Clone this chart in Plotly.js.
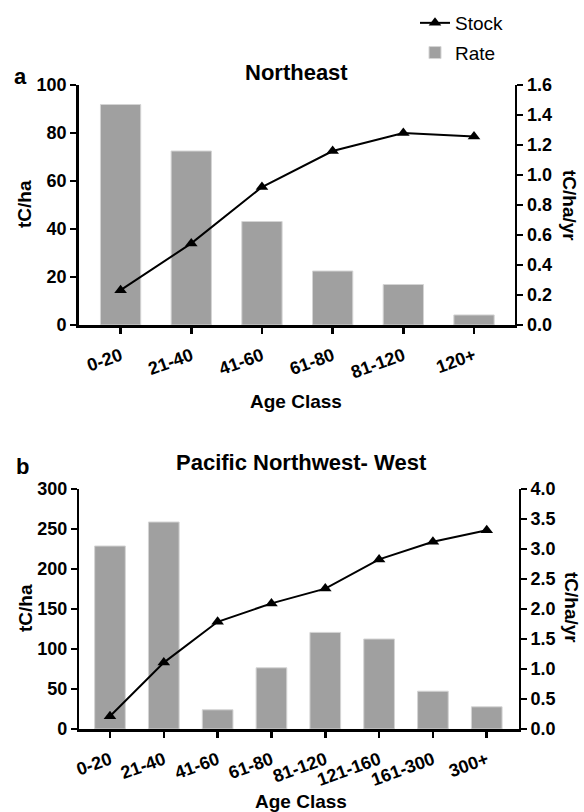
<!DOCTYPE html>
<html>
<head>
<meta charset="utf-8">
<script src="https://cdn.plot.ly/plotly-3.0.1.min.js"></script>
<style>html,body{margin:0;padding:0;background:#fff;}#chart{width:584px;height:812px;}</style>
</head>
<body>
<div id="chart"></div>
<script>
// Panel a: Northeast
const neAgeClasses = ["0-20", "21-40", "41-60", "61-80", "81-120", "120+"];
const neStock = [14.5, 34, 57.5, 72.5, 80, 78.5];        // tC/ha
const neRate = [1.47, 1.16, 0.69, 0.36, 0.27, 0.067];    // tC/ha/yr

// Panel b: Pacific Northwest- West
const pnwAgeClasses = ["0-20", "21-40", "41-60", "61-80", "81-120", "121-160", "161-300", "300+"];
const pnwStock = [16, 83, 134, 157, 175.5, 212, 234, 248.5];          // tC/ha
const pnwRate = [3.05, 3.45, 0.32, 1.02, 1.61, 1.50, 0.63, 0.37];    // tC/ha/yr

const FONT = "Liberation Sans, Arial, Helvetica, sans-serif";
const W = 584, H = 812;
const px = v => v / W;
const py = v => 1 - v / H;

const barStyle = {color: "#a0a0a0", line: {color: "#d4d4d4", width: 1}};
const lineStyle = {color: "#000", width: 2};
const markerStyle = {symbol: "triangle-up", size: 11, color: "#000"};

const traces = [
  {type: "bar", x: neAgeClasses, y: neRate, xaxis: "x", yaxis: "y", name: "Rate",
   marker: barStyle, width: 0.57, legendgroup: "r", legendrank: 2, showlegend: true},
  {type: "scatter", mode: "lines+markers", x: neAgeClasses, y: neStock, xaxis: "x", yaxis: "y2",
   name: "Stock", line: lineStyle, marker: markerStyle, legendgroup: "s", legendrank: 1, showlegend: true},
  {type: "bar", x: pnwAgeClasses, y: pnwRate, xaxis: "x2", yaxis: "y3", name: "Rate",
   marker: barStyle, width: 0.57, showlegend: false},
  {type: "scatter", mode: "lines+markers", x: pnwAgeClasses, y: pnwStock, xaxis: "x2", yaxis: "y4",
   name: "Stock", line: lineStyle, marker: markerStyle, showlegend: false}
];

const tickFont = {family: FONT, size: 18, color: "#000", weight: "bold"};
const axCommon = {
  showgrid: false, zeroline: false, showline: true, linecolor: "#000", linewidth: 2.5,
  ticks: "outside", ticklen: 6, tickwidth: 2.5, tickcolor: "#000", tickfont: tickFont,
  fixedrange: true
};

function ann(text, x, y, size, angle, bold) {
  return {text: text, x: px(x), y: py(y), xref: "paper", yref: "paper", showarrow: false,
          xanchor: "center", yanchor: "middle", textangle: angle || 0,
          font: {family: FONT, size: size, color: "#000", weight: bold === false ? "normal" : "bold"}};
}

const layout = {
  width: W, height: H,
  margin: {l: 0, r: 0, t: 0, b: 0},
  paper_bgcolor: "#fff", plot_bgcolor: "rgba(0,0,0,0)",
  showlegend: true,
  legend: {x: px(415), y: py(4), xanchor: "left", yanchor: "top",
           font: {family: FONT, size: 19, color: "#000"},
           traceorder: "grouped", tracegroupgap: 2, bgcolor: "rgba(0,0,0,0)"},
  xaxis: Object.assign({}, axCommon, {domain: [px(78.6), px(514.8)], anchor: "y",
           range: [-0.594, 5.577], tickangle: -20, type: "category", ticklabelstandoff: 5}),
  yaxis: Object.assign({}, axCommon, {domain: [py(325), py(85)], anchor: "x", side: "right",
           range: [0, 1.6], dtick: 0.2, tickformat: ".1f"}),
  yaxis2: Object.assign({}, axCommon, {overlaying: "y", anchor: "x", side: "left",
           range: [0, 100], dtick: 20}),
  xaxis2: Object.assign({}, axCommon, {domain: [px(79.3), px(518.5)], anchor: "y3",
           range: [-0.57, 7.59], tickangle: -20, type: "category", ticklabelstandoff: 5}),
  yaxis3: Object.assign({}, axCommon, {domain: [py(729), py(489)], anchor: "x2", side: "right",
           range: [0, 4], dtick: 0.5, tickformat: ".1f"}),
  yaxis4: Object.assign({}, axCommon, {overlaying: "y3", anchor: "x2", side: "left",
           range: [0, 300], dtick: 50}),
  annotations: [
    ann("Northeast", 296, 72, 22),
    ann("Pacific Northwest- West", 301, 462, 22),
    ann("a", 20, 76, 22),
    ann("b", 22, 466, 22),
    ann("tC/ha", 24, 204, 19, -90),
    ann("tC/ha/yr", 570, 205, 19, 90),
    ann("Age Class", 296, 401, 19),
    ann("tC/ha", 25, 608, 19, -90),
    ann("tC/ha/yr", 572, 607, 19, 90),
    ann("Age Class", 301, 801, 19)
  ]
};

Plotly.newPlot("chart", traces, layout, {displayModeBar: false, staticPlot: true});
</script>
</body>
</html>
